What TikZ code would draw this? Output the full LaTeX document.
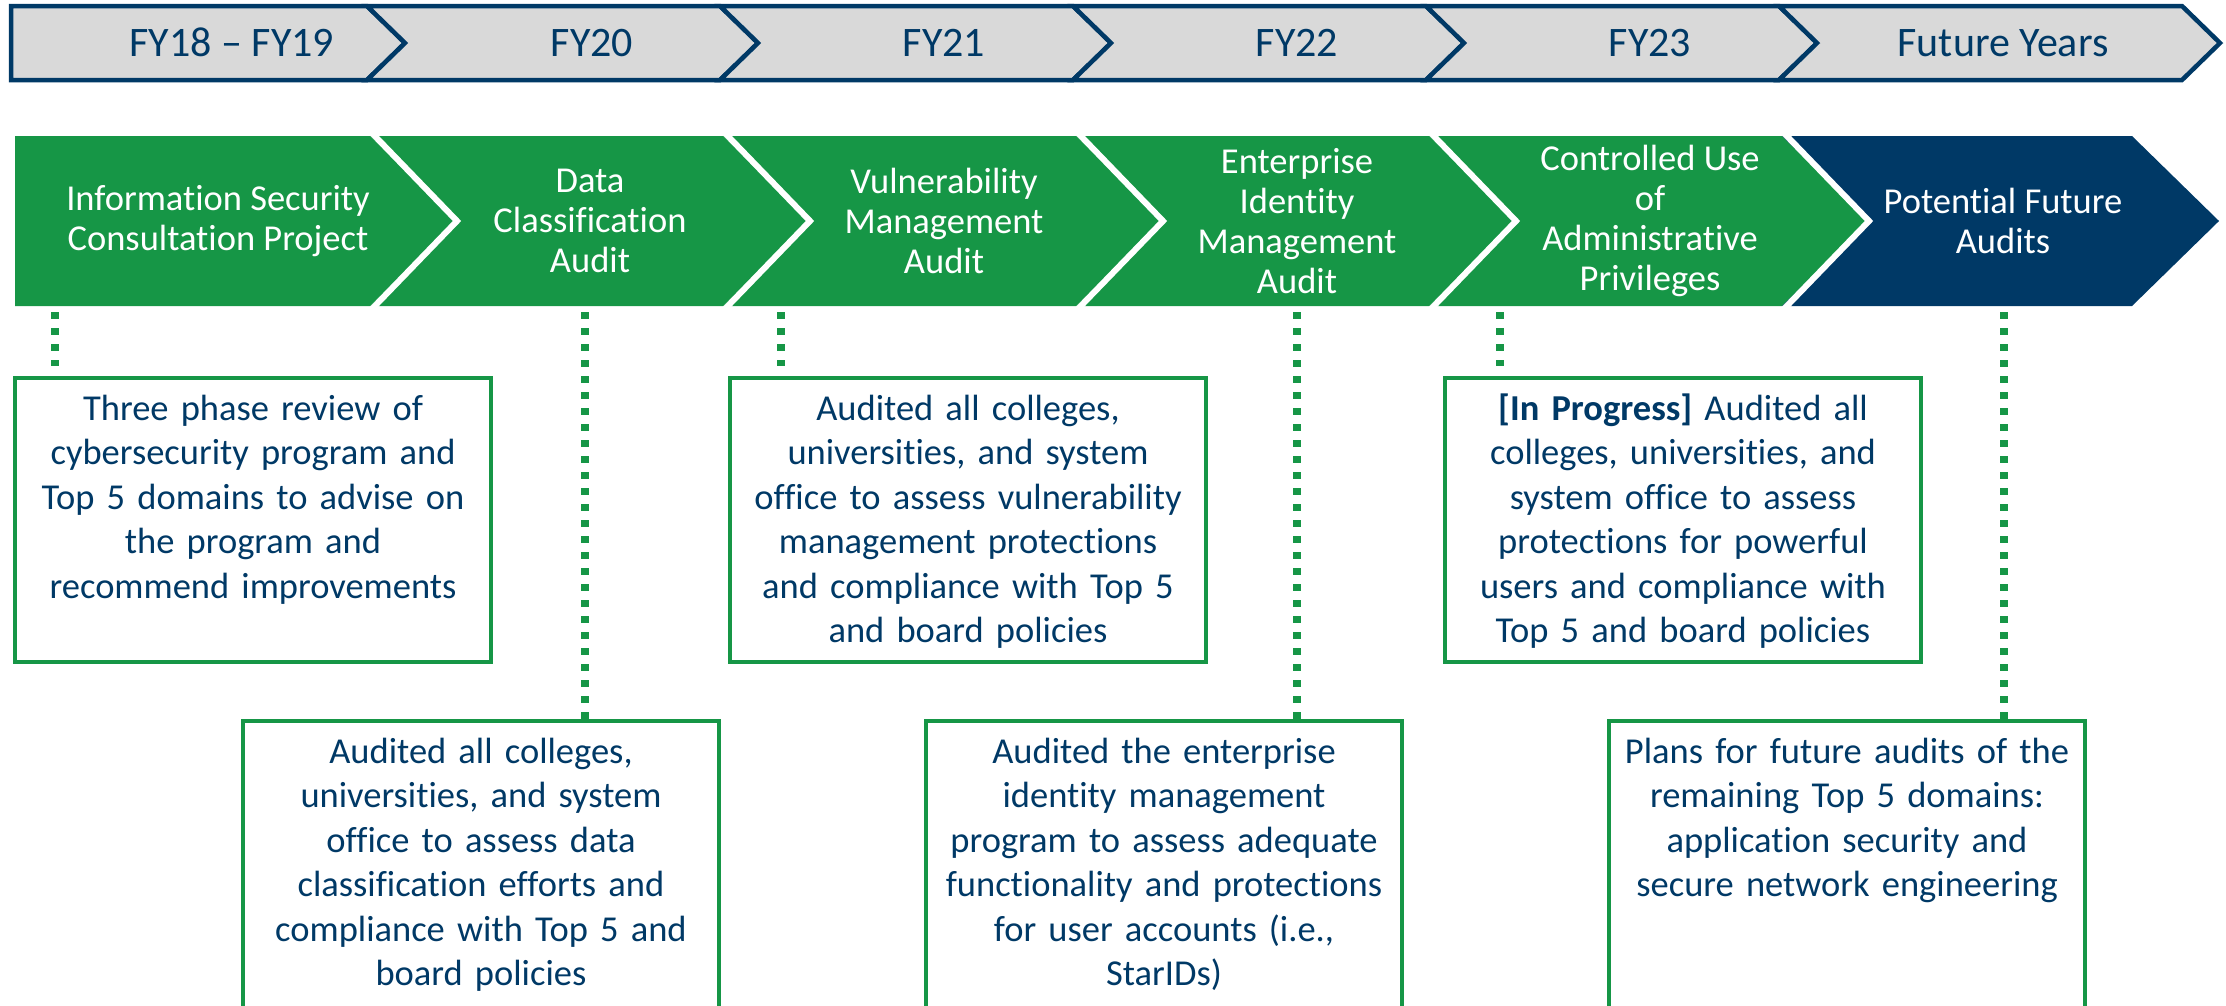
\documentclass[tikz,border=0pt]{standalone}
\usepackage{fontspec}
\setmainfont{Carlito}[Ligatures={NoCommon}]
\definecolor{msgreen}{RGB}{22,150,70}
\definecolor{msnavy}{RGB}{0,57,102}
\definecolor{barfill}{RGB}{217,217,217}

\begin{document}
\begin{tikzpicture}[x=1pt,y=-1pt,
  yearshape/.style={fill=barfill, draw=msnavy, line width=4.5pt, line join=miter},
  yeartext/.style={text=msnavy, font=\fontsize{42pt}{50pt}\selectfont, anchor=base, inner sep=0pt},
  stagetext/.style={text=white, font=\fontsize{36.5pt}{40pt}\selectfont, align=center, anchor=center, inner sep=0pt},
  notebox/.style={draw=msgreen, line width=4pt, fill=white, minimum width=476pt, anchor=north west, inner sep=0pt},
  notetext/.style={text=msnavy, font=\fontsize{36.5pt}{44.5pt}\selectfont, text width=476pt, align=center, anchor=base, inner sep=0pt},
  leader/.style={draw=msgreen, line width=7.5pt, dash pattern=on 7pt off 9pt}
]
\useasboundingbox (0,0) rectangle (2226,1005);
\clip (0,0) rectangle (2226,1005);

% fiscal-year band
\path[yearshape] (11,6) -- (367,6) -- (405,43) -- (367,80) -- (11,80) -- cycle;
\foreach \l/\r in {367/720, 720/1073, 1073/1426, 1426/1779, 1779/2182}
  \path[yearshape] (\l,6) -- (\r,6) -- (\r+38,43) -- (\r,80) -- (\l,80) -- (\l+38,43) -- cycle;

\node[yeartext] (y1) at (232,56) {FY18 – FY19};
\node[yeartext] (y2) at (592,56) {FY20};
\node[yeartext] (y3) at (944,56) {FY21};
\node[yeartext] (y4) at (1297,56) {FY22};
\node[yeartext] (y5) at (1650,56) {FY23};
\node[yeartext] (y6) at (2003,56) {Future Years};

% audit stages
\fill[msgreen] (15,136) -- (370,136) -- (457,221) -- (370,306) -- (15,306) -- cycle;
\foreach \l/\r in {370/723, 723/1076, 1076/1429, 1429/1782}
  \fill[msgreen] (\l,136) -- (\r,136) -- (\r+87,221) -- (\r,306) -- (\l,306) -- (\l+87,221) -- cycle;
\fill[msnavy] (1782,136) -- (2132,136) -- (2219,221) -- (2132,306) -- (1782,306) -- (1869,221) -- cycle;
\foreach \x in {370, 723, 1076, 1429, 1782}
  \draw[white, line width=6pt] (\x,131) -- (\x+87,221) -- (\x,311);

\node[stagetext] (g1) at (218,221) {Information Security\\Consultation Project};
\node[stagetext] (g2) at (590,221) {Data\\Classification\\Audit};
\node[stagetext] (g3) at (944,221) {Vulnerability\\Management\\Audit};
\node[stagetext] (g4) at (1297,221) {Enterprise\\Identity\\Management\\Audit};
\node[stagetext] (g5) at (1650,221) {Controlled Use\\of\\Administrative\\Privileges};
\node[stagetext] (g6) at (2003,221) {Potential Future\\Audits};

% description boxes
\node[notebox, minimum height=284pt] (b1) at (13,376) {};
\node[notebox, minimum height=284pt] (b3) at (728,376) {};
\node[notebox, minimum height=284pt] (b5) at (1443,376) {};
\node[notebox, minimum height=330pt] (b2) at (241,719) {};
\node[notebox, minimum height=330pt] (b4) at (924,719) {};
\node[notebox, minimum height=330pt] (b6) at (1607,719) {};

% leaders from the stages down to their boxes
\coordinate (s1) at (55,312);
\coordinate (s2) at (585,312);
\coordinate (s3) at (781,312);
\coordinate (s4) at (1297,312);
\coordinate (s5) at (1500,312);
\coordinate (s6) at (2004,312);
\draw[leader] (s1) -- ([yshift=10pt]b1.north -| s1);
\draw[leader] (s3) -- ([yshift=10pt]b3.north -| s3);
\draw[leader] (s5) -- ([yshift=10pt]b5.north -| s5);
\draw[leader] (s2) -- (b2.north -| s2);
\draw[leader] (s4) -- (b4.north -| s4);
\draw[leader] (s6) -- (b6.north -| s6);

\node[notetext] (n1) at ([yshift=-44pt]b1.north) {Three phase review of\\cybersecurity program and\\Top 5 domains to advise on\\the program and\\recommend improvements};
\node[notetext] (n2) at ([yshift=-44pt]b2.north) {Audited all colleges,\\universities, and system\\office to assess data\\classification efforts and\\compliance with Top 5 and\\board policies};
\node[notetext] (n3) at ([yshift=-44pt]b3.north) {Audited all colleges,\\universities, and system\\office to assess vulnerability\\management protections\\and compliance with Top 5\\and board policies};
\node[notetext] (n4) at ([yshift=-44pt]b4.north) {Audited the enterprise\\identity management\\program to assess adequate\\functionality and protections\\for user accounts (i.e.,\\StarIDs)};
\node[notetext] (n5) at ([yshift=-44pt]b5.north) {\textbf{[In Progress]} Audited all\\colleges, universities, and\\system office to assess\\protections for powerful\\users and compliance with\\Top 5 and board policies};
\node[notetext] (n6) at ([yshift=-44pt]b6.north) {Plans for future audits of the\\remaining Top 5 domains:\\application security and\\secure network engineering};
\end{tikzpicture}
\end{document}
